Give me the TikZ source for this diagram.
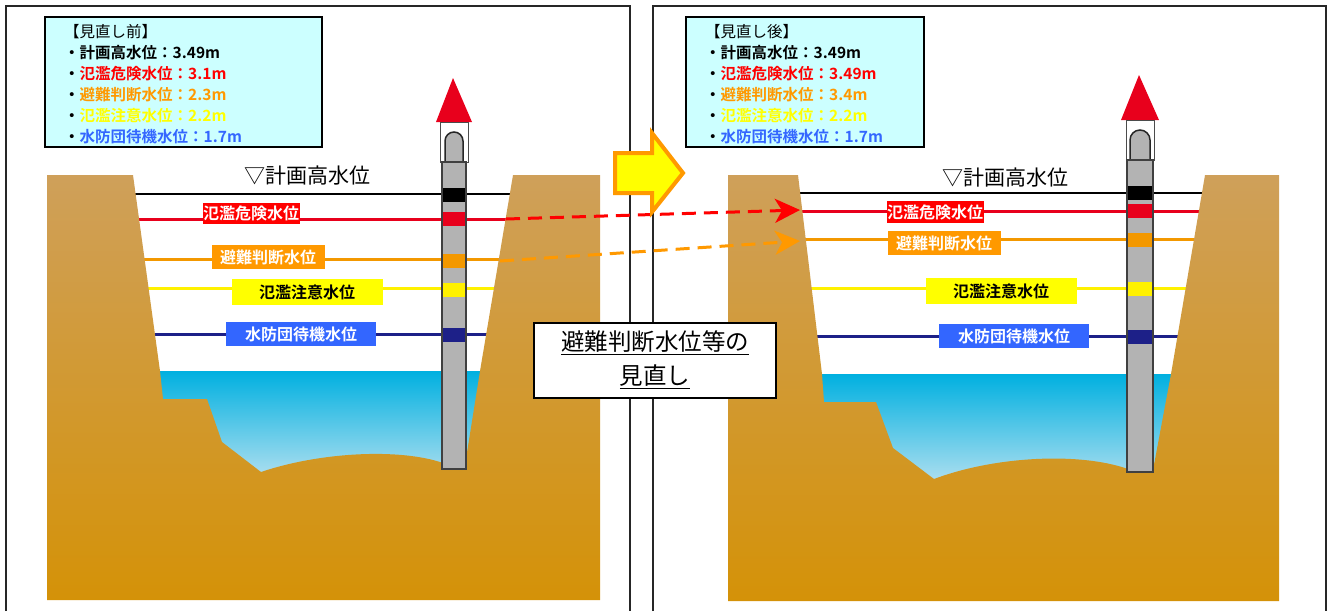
\documentclass[tikz,border=0pt]{standalone}
\usepackage{fontspec}
\newfontfamily\jp{Noto Sans CJK JP}[BoldFont={Noto Sans CJK JP Bold}]
\usetikzlibrary{positioning, arrows.meta, calc}

\definecolor{soilTop}{RGB}{207,160,90}
\definecolor{soilBot}{RGB}{212,146,8}
\definecolor{waterTop}{RGB}{0,176,224}
\definecolor{waterBot}{RGB}{178,224,240}
\definecolor{infoBg}{RGB}{204,255,255}
\definecolor{lvRed}{RGB}{255,0,0}
\definecolor{lvOrange}{RGB}{255,153,0}
\definecolor{lvYellow}{RGB}{255,255,0}
\definecolor{lvBlue}{RGB}{51,102,255}
\definecolor{lineRed}{RGB}{232,0,28}
\definecolor{lineOrange}{RGB}{243,152,0}
\definecolor{lineYellow}{RGB}{255,241,0}
\definecolor{lineNavy}{RGB}{29,32,136}
\definecolor{poleGray}{RGB}{179,179,179}

\tikzset{
    panel/.style={draw=black!85, line width=2pt},
    infobox/.style={draw=black, line width=2.5pt, fill=infoBg},
    infotext/.style={anchor=north west, align=left, inner sep=0pt,
        font=\jp\fontsize{15.5}{21}\selectfont},
    lvlabel/.style={font=\jp\bfseries\fontsize{16}{16}\selectfont,
        inner sep=0pt, text=white},
    lvline/.style={line width=3pt},
    planlabel/.style={font=\jp\fontsize{21}{21}\selectfont, inner sep=0pt},
    raisearrow/.style={line width=3pt, dash pattern=on 14pt off 8pt,
        -{Stealth[length=25pt, width=24pt, inset=7pt]}},
}

\begin{document}
\begin{tikzpicture}[x=1pt, y=-1pt]
    \useasboundingbox (0,0) rectangle (1329,611);

    % two panels, open at the bottom
    \draw[panel] (6,611) -- (6,6) -- (630,6) -- (630,611);
    \draw[panel] (653,611) -- (653,6) -- (1326,6) -- (1326,611);

    %%% before %%%
    \shade[top color=waterTop, bottom color=waterBot] (150,371) rectangle (490,480);
    \draw[lvline, black, line width=2.5pt] (120,194) -- (530,194);
    \draw[lvline, lineRed] (120,219) -- (530,219);
    \draw[lvline, lineOrange] (120,259) -- (530,259);
    \draw[lvline, lineYellow] (120,288) -- (530,288);
    \draw[lvline, lineNavy] (120,334) -- (530,334);
    % river bed
    \shade[top color=soilTop, bottom color=soilBot]
        (47,175) -- (133,175) -- (160,371) -- (163,399) -- (207,399) -- (222,442) -- (261,472)
        .. controls (320,452) and (400,448) .. (443,463) -- (465,465) -- (480,371)
        -- (513,175) -- (600,175) -- (600,600) -- (47,600) -- cycle;
    % gauge pole
    \fill[lineRed] (453,78) -- (472,122) -- (436,122) -- cycle;
    \draw[black!70, line width=1pt, fill=white] (440,122) rectangle (468,162);
    \draw[black!85, line width=1.5pt, fill=poleGray]
        (445,162) -- (445,141) arc[start angle=180, end angle=0, radius=9pt] -- (463,162) -- cycle;
    \draw[black!75, line width=1.5pt, fill=poleGray] (442,162) rectangle (466,469);
    \foreach \yy/\cc in {195/black, 219/lineRed, 261/lineOrange, 290/lineYellow, 335/lineNavy}
        \fill[\cc] (443,\yy-7) rectangle (465,\yy+7);

    \node[planlabel] (planL) at (307,176) {▽計画高水位};
    \node[lvlabel, fill=lvRed, minimum width=97pt, minimum height=21pt] (dangerL) at (251,213) {氾濫危険水位};
    \node[lvlabel, fill=lvOrange, minimum width=113pt, minimum height=24pt] (judgeL) at (268,257) {避難判断水位};
    \node[lvlabel, fill=lvYellow, text=black, minimum width=151pt, minimum height=26pt] (cautionL) at (307,292) {氾濫注意水位};
    \node[lvlabel, fill=lvBlue, minimum width=150pt, minimum height=24pt] (standbyL) at (301,334) {水防団待機水位};

    \draw[infobox] (45,17) rectangle (322,147);
    \node[infotext] (infoL) at (64,24) {【見直し前】\\
        \textbf{・計画高水位：3.49m}\\
        \textbf{・\color{lvRed}氾濫危険水位：3.1m}\\
        \textbf{・\color{lvOrange}避難判断水位：2.3m}\\
        \textbf{・\color{lvYellow}氾濫注意水位：2.2m}\\
        \textbf{・\color{lvBlue}水防団待機水位：1.7m}};

    %%% after %%%
    \shade[top color=waterTop, bottom color=waterBot] (815,374) rectangle (1180,485);
    \draw[lvline, black, line width=2.5pt] (780,193) -- (1225,193);
    \draw[lvline, lineRed] (780,211) -- (1225,211);
    \draw[lvline, lineOrange] (780,239) -- (1225,239);
    \draw[lvline, lineYellow] (780,288) -- (1225,288);
    \draw[lvline, lineNavy] (780,336) -- (1225,336);
    % river bed
    \shade[top color=soilTop, bottom color=soilBot]
        (728,175) -- (798,175) -- (822,374) -- (824,402) -- (876,402) -- (893,448) -- (934,479)
        .. controls (995,456) and (1080,452) .. (1128,469) -- (1153,470) -- (1171,374)
        -- (1205,175) -- (1279,175) -- (1279,601) -- (728,601) -- cycle;
    % gauge pole
    \fill[lineRed] (1139,75) -- (1159,120) -- (1121,120) -- cycle;
    \draw[black!70, line width=1pt, fill=white] (1126,120) rectangle (1154,160);
    \draw[black!85, line width=1.5pt, fill=poleGray]
        (1130,160) -- (1130,140) arc[start angle=180, end angle=0, radius=10pt] -- (1150,160) -- cycle;
    \draw[black!75, line width=1.5pt, fill=poleGray] (1127,160) rectangle (1153,472);
    \foreach \yy/\cc in {193/black, 211/lineRed, 240/lineOrange, 289/lineYellow, 337/lineNavy}
        \fill[\cc] (1128,\yy-7) rectangle (1152,\yy+7);

    \node[planlabel] (planR) at (1005,178) {▽計画高水位};
    \node[lvlabel, fill=lvRed, minimum width=97pt, minimum height=22pt] (dangerR) at (935,212) {氾濫危険水位};
    \node[lvlabel, fill=lvOrange, minimum width=113pt, minimum height=24pt] (judgeR) at (944,243) {避難判断水位};
    \node[lvlabel, fill=lvYellow, text=black, minimum width=151pt, minimum height=26pt] (cautionR) at (1001,291) {氾濫注意水位};
    \node[lvlabel, fill=lvBlue, minimum width=150pt, minimum height=24pt] (standbyR) at (1014,336) {水防団待機水位};

    \draw[infobox] (686,17) rectangle (924,147);
    \node[infotext] (infoR) at (705,24) {【見直し後】\\
        \textbf{・計画高水位：3.49m}\\
        \textbf{・\color{lvRed}氾濫危険水位：3.49m}\\
        \textbf{・\color{lvOrange}避難判断水位：3.4m}\\
        \textbf{・\color{lvYellow}氾濫注意水位：2.2m}\\
        \textbf{・\color{lvBlue}水防団待機水位：1.7m}};

    % raised levels
    \coordinate (redFrom) at (506,219);
    \coordinate (redTo) at (800,210);
    \coordinate (orangeFrom) at (500,261);
    \coordinate (orangeTo) at (800,241);
    \draw[raisearrow, lvRed] (redFrom) -- (redTo);
    \draw[raisearrow, lvOrange] (orangeFrom) -- (orangeTo);

    % big yellow arrow
    \draw[draw=lvOrange, line width=4pt, fill=lvYellow, line join=miter]
        (615,153) -- (652,153) -- (652,133) -- (683,173) -- (652,212) -- (652,193) -- (615,193) -- cycle;

    \node[draw, line width=2pt, fill=white, minimum width=242pt, minimum height=75pt,
        align=center, font=\jp\fontsize{23.5}{34}\selectfont] (review) at (655,360)
        {\underline{避難判断水位等の}\\\underline{見直し}};
\end{tikzpicture}
\end{document}
